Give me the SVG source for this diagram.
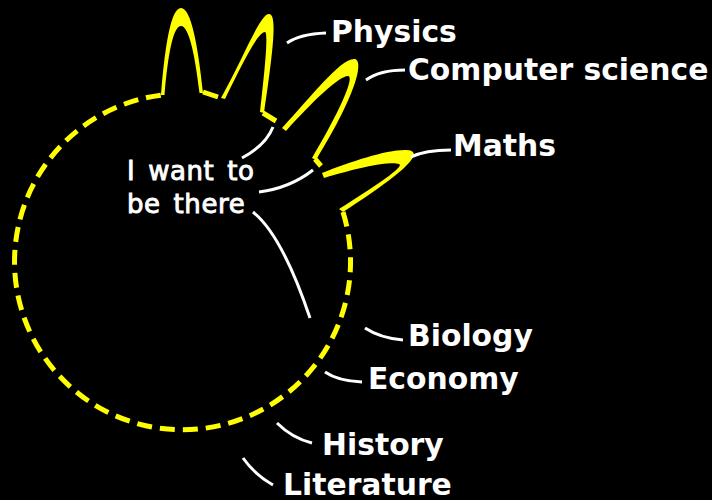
<svg xmlns="http://www.w3.org/2000/svg" width="712" height="500" viewBox="0 0 712 500">
<style>
.y{fill:#ffff00;stroke:none}
.ring{fill:none;stroke:#ffff00;stroke-width:5}
.c{fill:none;stroke:#ffffff;stroke-width:3;stroke-linecap:butt}
.lbl{font-family:"DejaVu Sans",sans-serif;font-weight:bold;font-size:29.8px;fill:#ffffff}
.note{font-family:"DejaVu Sans",sans-serif;font-size:26px;letter-spacing:0.6px;word-spacing:4px;fill:#ffffff;stroke:#ffffff;stroke-width:0.9}
</style>
<rect width="712" height="500" fill="#000000"/>
<g id="region">
<path class="ring" d="M343,212 A168,168 0 1 1 162,95" stroke-dasharray="15 8"/>
<path class="ring" d="M203,92 L218,97 M263,113 L276,121 M315,159 L321,166"/>
<path class="y" d="M161,95 C165,45 171,8 181,8 C191,8 198,45 203,93 L199.5,93 C195,55 189,26 181,26 C173,26 168,55 164.5,95 Z"/>
<path class="y" d="M221,98 C245,55 260,14 269,14 C277,14 274,45 264,113 L260,112 C266,60 268,32 265,32 C258,32 243,62 225,99 Z"/>
<path class="y" d="M282,128 C310,98 340,59 354,59 C364,59 359,90 316,160 L312,158 C345,102 354,76 348,76 C339,76 312,102 286,131 Z"/>
<path class="y" d="M322,173 C350,162 385,150 405,150 C422,150 421,162 343,212 L339,209 C388,178 404,166 399,164 C390,161 360,167 324,178 Z"/>
</g>
<g id="connectors">
<path class="c" d="M287,43 Q300,34 326,33"/>
<path class="c" d="M366,80 Q380,70 405,70"/>
<path class="c" d="M411,157 Q425,150 451,150"/>
<path class="c" d="M365,328 Q380,338 403,340"/>
<path class="c" d="M325,372 Q338,381 362,382"/>
<path class="c" d="M277,423 Q292,438 312,443"/>
<path class="c" d="M243,458 Q255,475 273,485"/>
<path class="c" d="M242,158 Q266,145 273,127"/>
<path class="c" d="M259,192 Q290,188 313,170"/>
<path class="c" d="M253,212 Q282,235 310,318"/>
</g>
<g id="note"><text class="note" x="127" y="180">I want to</text><text class="note" x="127" y="213">be there</text></g>
<g id="physics"><text class="lbl" x="331" y="42">Physics</text></g>
<g id="computer-science"><text class="lbl" x="408" y="80">Computer science</text></g>
<g id="maths"><text class="lbl" x="453" y="156">Maths</text></g>
<g id="biology"><text class="lbl" x="408" y="346">Biology</text></g>
<g id="economy"><text class="lbl" x="368" y="389">Economy</text></g>
<g id="history"><text class="lbl" x="322" y="455">History</text></g>
<g id="literature"><text class="lbl" x="283" y="495">Literature</text></g>
</svg>
